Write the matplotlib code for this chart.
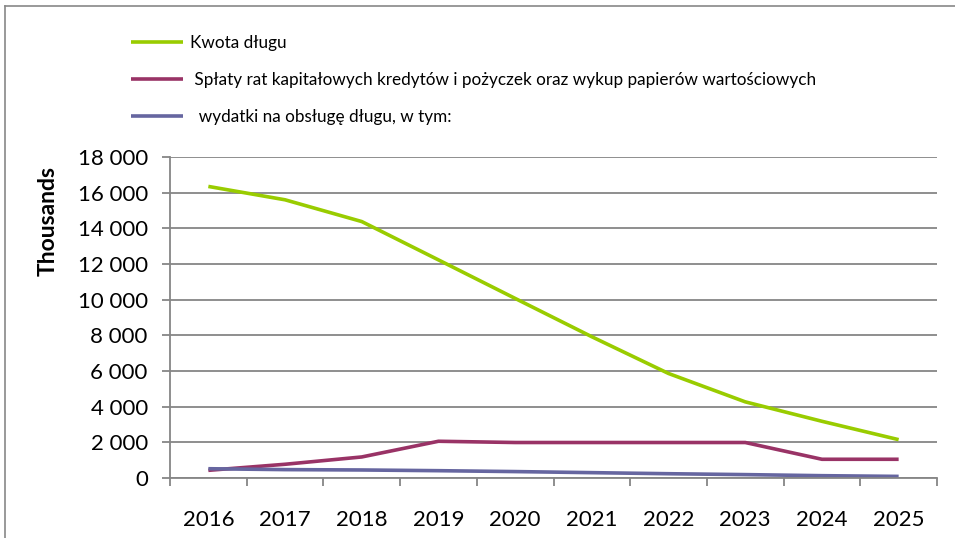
import numpy as np
import matplotlib.pyplot as plt
from matplotlib.lines import Line2D

years = ['2016', '2017', '2018', '2019', '2020', '2021', '2022', '2023', '2024', '2025']

kwota_dlugu = [16350, 15600, 14380, 12230, 10070, 7920, 5860, 4270, 3180, 2150]
splaty_rat = [430, 770, 1180, 2060, 1990, 1990, 1990, 1990, 1050, 1050]
wydatki_obsluga = [520, 470, 450, 410, 360, 300, 240, 190, 130, 90]

labels = ['Kwota długu',
          ' Spłaty rat kapitałowych kredytów i pożyczek oraz wykup papierów wartościowych',
          '  wydatki na obsługę długu, w tym:']
colors = ['#99cc00', '#993366', '#6666a0']

plt.rcParams['font.family'] = ['Lato', 'DejaVu Sans']

fig = plt.figure(figsize=(9.55, 5.38), dpi=100)
ax = fig.add_axes([170/955, 60/538, (937-170)/955, (478-157)/538])

x = np.arange(len(years))
for vals, c, lab in zip([kwota_dlugu, splaty_rat, wydatki_obsluga], colors, labels):
    ax.plot(x, vals, color=c, lw=2.6, label=lab, solid_capstyle='butt')

ax.set_xlim(-0.5, len(years) - 0.5)
ax.set_ylim(0, 18000)
ax.set_yticks(np.arange(0, 18001, 2000))
ax.set_yticklabels([f'{v:,}'.replace(',', ' ') for v in range(0, 18001, 2000)])
ax.set_xticks(np.arange(-0.5, len(years), 1.0))
ax.set_xticklabels([])
ax.set_xticks(x, minor=True)
ax.set_xticklabels(years, minor=True)

grid_c = '#868686'
ax.grid(axis='y', color=grid_c, lw=1.3)
ax.set_axisbelow(True)
for s in ['top', 'right']:
    ax.spines[s].set_visible(False)
for s in ['left', 'bottom']:
    ax.spines[s].set_color(grid_c)
    ax.spines[s].set_linewidth(1.3)
ax.tick_params(axis='y', length=6, width=1.3, color=grid_c, pad=10, labelsize=16)
ax.tick_params(axis='x', which='major', length=6, width=1.3, color=grid_c)
ax.tick_params(axis='x', which='minor', length=0, pad=23, labelsize=16)

fig.text(48/955, 1 - 221/538, 'Thousands', rotation=90, ha='center', va='center',
         fontsize=16.5, fontweight='bold')

fig.legend(loc='upper left', bbox_to_anchor=(116/955, 1 - 20/538), frameon=False,
           fontsize=12.3, handlelength=3.05, handletextpad=0.4, labelspacing=1.21)

# outer chart border (top and left edges visible)
fig.add_artist(Line2D([5/955, 1.0], [1 - 6/538, 1 - 6/538], color='#888888', lw=1.2))
fig.add_artist(Line2D([5/955, 5/955], [0, 1 - 6/538], color='#888888', lw=1.2))

fig.savefig('out.png', dpi=100)
